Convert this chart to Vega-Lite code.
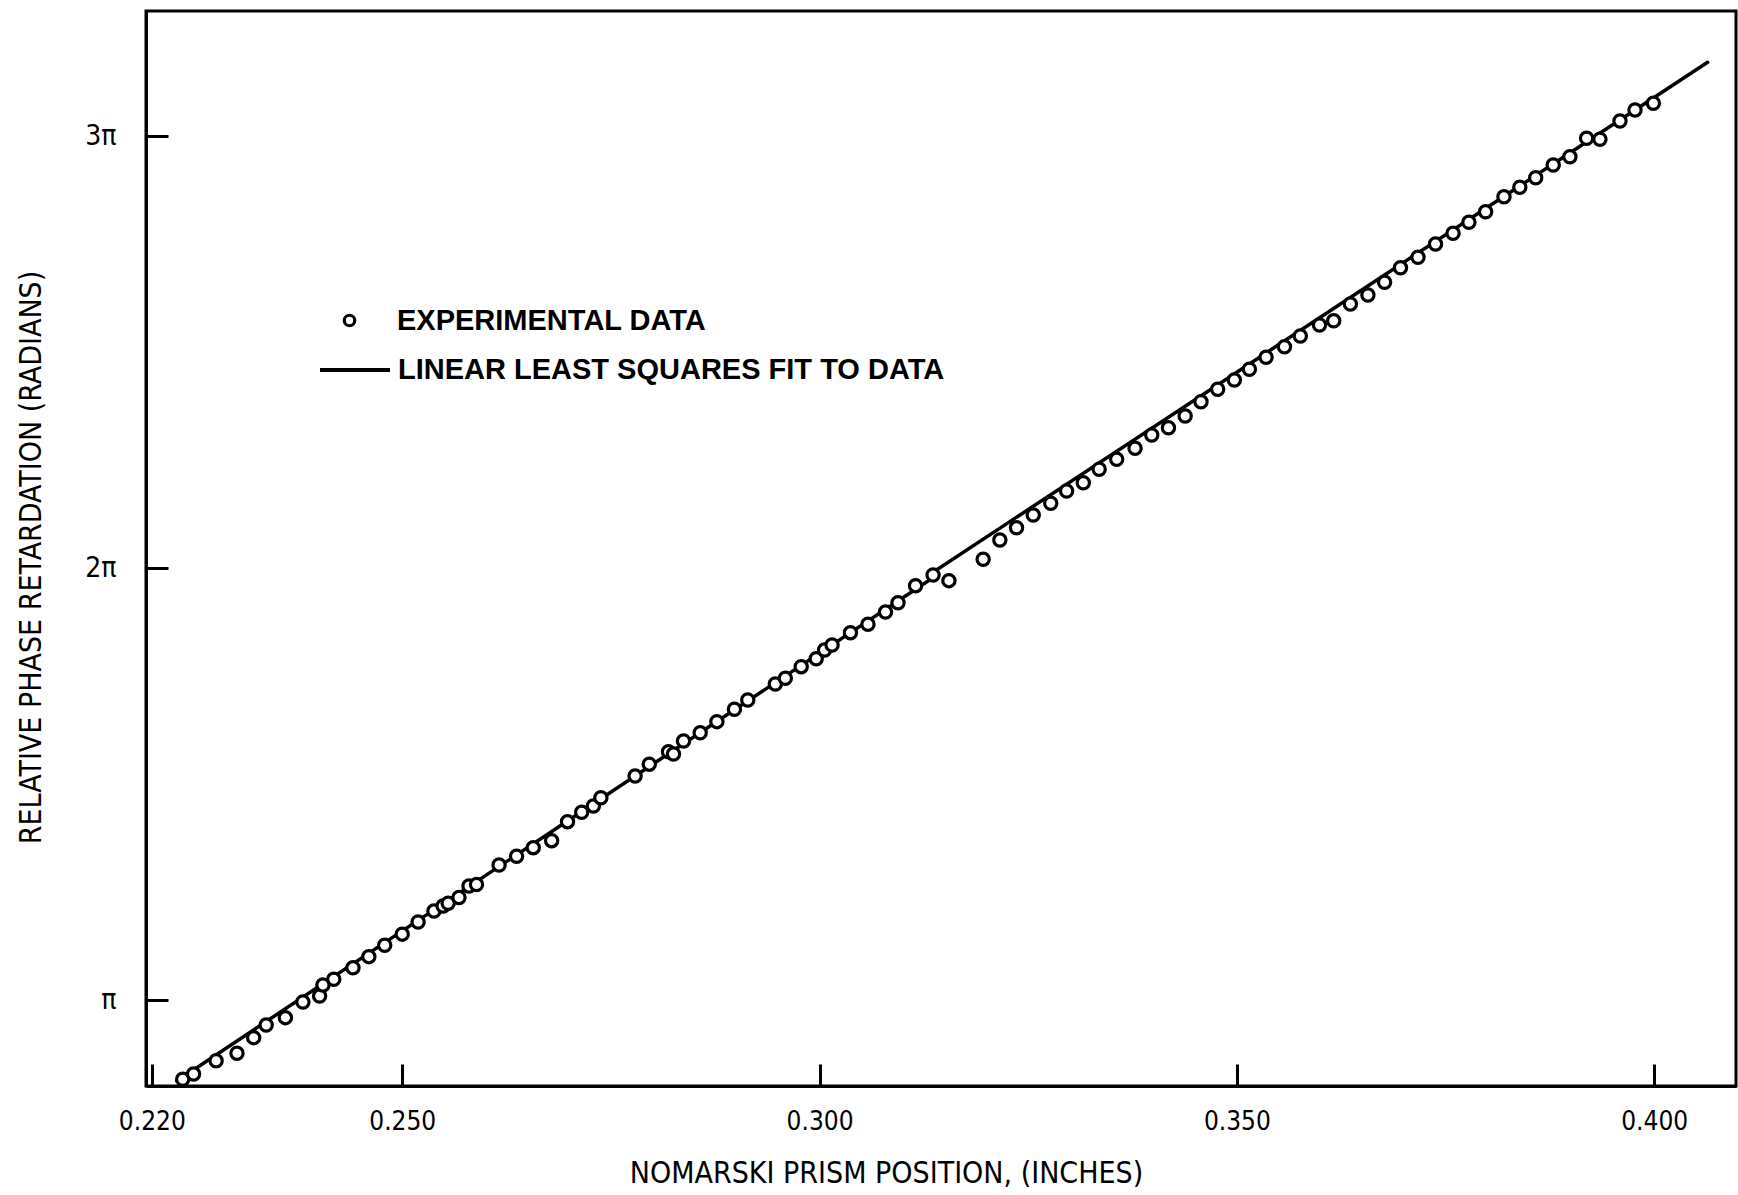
{
  "$schema": "https://vega.github.io/schema/vega-lite/v6.json",
  "width": 1590,
  "height": 1075,
  "autosize": {"type": "none"},
  "padding": {"left": 146, "top": 11, "right": 2, "bottom": 109},
  "background": "white",
  "config": {
    "view": {"stroke": "black", "strokeWidth": 3},
    "axis": {
      "grid": false,
      "domainColor": "black",
      "domainWidth": 3,
      "tickColor": "black",
      "tickWidth": 3,
      "tickSize": -22,
      "labelColor": "black",
      "labelFont": "Liberation Sans Narrow, DejaVu Sans Condensed, sans-serif",
      "labelFontSize": 26,
      "labelFlush": false,
      "labelOverlap": false,
      "titleColor": "black",
      "titleFont": "Liberation Sans Narrow, DejaVu Sans Condensed, sans-serif",
      "titleFontSize": 30,
      "titleFontWeight": "normal"
    }
  },
  "datasets": {
    "measured": [
      {"position_in": 0.2237, "retardation_pi": 0.8176},
      {"position_in": 0.2250, "retardation_pi": 0.8299},
      {"position_in": 0.2277, "retardation_pi": 0.8606},
      {"position_in": 0.2302, "retardation_pi": 0.8778},
      {"position_in": 0.2322, "retardation_pi": 0.9139},
      {"position_in": 0.2337, "retardation_pi": 0.9433},
      {"position_in": 0.2360, "retardation_pi": 0.9602},
      {"position_in": 0.2381, "retardation_pi": 0.9965},
      {"position_in": 0.2401, "retardation_pi": 1.0104},
      {"position_in": 0.2405, "retardation_pi": 1.0359},
      {"position_in": 0.2418, "retardation_pi": 1.0491},
      {"position_in": 0.2441, "retardation_pi": 1.0759},
      {"position_in": 0.2460, "retardation_pi": 1.1014},
      {"position_in": 0.2479, "retardation_pi": 1.1278},
      {"position_in": 0.2500, "retardation_pi": 1.1535},
      {"position_in": 0.2519, "retardation_pi": 1.1817},
      {"position_in": 0.2538, "retardation_pi": 1.2072},
      {"position_in": 0.2549, "retardation_pi": 1.2187},
      {"position_in": 0.2555, "retardation_pi": 1.2250},
      {"position_in": 0.2568, "retardation_pi": 1.2384},
      {"position_in": 0.2580, "retardation_pi": 1.2650},
      {"position_in": 0.2589, "retardation_pi": 1.2685},
      {"position_in": 0.2616, "retardation_pi": 1.3137},
      {"position_in": 0.2637, "retardation_pi": 1.3338},
      {"position_in": 0.2657, "retardation_pi": 1.3537},
      {"position_in": 0.2679, "retardation_pi": 1.3699},
      {"position_in": 0.2698, "retardation_pi": 1.4139},
      {"position_in": 0.2715, "retardation_pi": 1.4356},
      {"position_in": 0.2729, "retardation_pi": 1.4502},
      {"position_in": 0.2738, "retardation_pi": 1.4694},
      {"position_in": 0.2779, "retardation_pi": 1.5197},
      {"position_in": 0.2796, "retardation_pi": 1.5470},
      {"position_in": 0.2819, "retardation_pi": 1.5759},
      {"position_in": 0.2825, "retardation_pi": 1.5706},
      {"position_in": 0.2837, "retardation_pi": 1.6007},
      {"position_in": 0.2857, "retardation_pi": 1.6199},
      {"position_in": 0.2877, "retardation_pi": 1.6454},
      {"position_in": 0.2898, "retardation_pi": 1.6741},
      {"position_in": 0.2914, "retardation_pi": 1.6956},
      {"position_in": 0.2947, "retardation_pi": 1.7326},
      {"position_in": 0.2959, "retardation_pi": 1.7458},
      {"position_in": 0.2978, "retardation_pi": 1.7727},
      {"position_in": 0.2996, "retardation_pi": 1.7912},
      {"position_in": 0.3006, "retardation_pi": 1.8113},
      {"position_in": 0.3015, "retardation_pi": 1.8229},
      {"position_in": 0.3037, "retardation_pi": 1.8514},
      {"position_in": 0.3058, "retardation_pi": 1.8708},
      {"position_in": 0.3079, "retardation_pi": 1.8993},
      {"position_in": 0.3094, "retardation_pi": 1.9208},
      {"position_in": 0.3115, "retardation_pi": 1.9602},
      {"position_in": 0.3136, "retardation_pi": 1.9850},
      {"position_in": 0.3155, "retardation_pi": 1.9718},
      {"position_in": 0.3196, "retardation_pi": 2.0213},
      {"position_in": 0.3216, "retardation_pi": 2.0660},
      {"position_in": 0.3236, "retardation_pi": 2.0944},
      {"position_in": 0.3256, "retardation_pi": 2.1238},
      {"position_in": 0.3277, "retardation_pi": 2.1509},
      {"position_in": 0.3296, "retardation_pi": 2.1794},
      {"position_in": 0.3316, "retardation_pi": 2.1986},
      {"position_in": 0.3335, "retardation_pi": 2.2296},
      {"position_in": 0.3356, "retardation_pi": 2.2528},
      {"position_in": 0.3378, "retardation_pi": 2.2782},
      {"position_in": 0.3398, "retardation_pi": 2.3090},
      {"position_in": 0.3418, "retardation_pi": 2.3259},
      {"position_in": 0.3438, "retardation_pi": 2.3530},
      {"position_in": 0.3457, "retardation_pi": 2.3861},
      {"position_in": 0.3477, "retardation_pi": 2.4148},
      {"position_in": 0.3497, "retardation_pi": 2.4363},
      {"position_in": 0.3515, "retardation_pi": 2.4611},
      {"position_in": 0.3535, "retardation_pi": 2.4889},
      {"position_in": 0.3557, "retardation_pi": 2.5134},
      {"position_in": 0.3576, "retardation_pi": 2.5382},
      {"position_in": 0.3599, "retardation_pi": 2.5637},
      {"position_in": 0.3616, "retardation_pi": 2.5736},
      {"position_in": 0.3636, "retardation_pi": 2.6123},
      {"position_in": 0.3657, "retardation_pi": 2.6331},
      {"position_in": 0.3677, "retardation_pi": 2.6627},
      {"position_in": 0.3696, "retardation_pi": 2.6961},
      {"position_in": 0.3717, "retardation_pi": 2.7204},
      {"position_in": 0.3738, "retardation_pi": 2.7512},
      {"position_in": 0.3759, "retardation_pi": 2.7759},
      {"position_in": 0.3778, "retardation_pi": 2.8014},
      {"position_in": 0.3798, "retardation_pi": 2.8259},
      {"position_in": 0.3820, "retardation_pi": 2.8606},
      {"position_in": 0.3839, "retardation_pi": 2.8824},
      {"position_in": 0.3858, "retardation_pi": 2.9046},
      {"position_in": 0.3879, "retardation_pi": 2.9340},
      {"position_in": 0.3899, "retardation_pi": 2.9532},
      {"position_in": 0.3919, "retardation_pi": 2.9958},
      {"position_in": 0.3935, "retardation_pi": 2.9935},
      {"position_in": 0.3959, "retardation_pi": 3.0359},
      {"position_in": 0.3977, "retardation_pi": 3.0613},
      {"position_in": 0.3999, "retardation_pi": 3.0769}
    ],
    "fit": [
      {"position_in": 0.2230, "retardation_pi": 0.8137},
      {"position_in": 0.3139, "retardation_pi": 1.9826},
      {"position_in": 0.3140, "retardation_pi": 1.9965},
      {"position_in": 0.4064, "retardation_pi": 3.1718}
    ]
  },
  "layer": [
    {
      "data": {"name": "fit"},
      "mark": {"type": "line", "strokeWidth": 3.5, "strokeCap": "round"},
      "encoding": {
        "x": {
          "field": "position_in", "type": "quantitative",
          "scale": {"domain": [0.2193, 0.4098], "nice": false, "zero": false},
          "axis": {
            "values": [0.22, 0.25, 0.3, 0.35, 0.4],
            "format": ".3f",
            "title": "NOMARSKI PRISM POSITION, (INCHES)",
            "labelPadding": 44,
            "titleX": 740,
            "titleY": 87,
            "titleBaseline": "middle",
            "titleAlign": "center"
          }
        },
        "y": {
          "field": "retardation_pi", "type": "quantitative",
          "scale": {"domain": [0.802, 3.2905], "nice": false, "zero": false},
          "axis": {
            "values": [1, 2, 3],
            "labelExpr": "datum.value == 1 ? 'π' : datum.value + 'π'",
            "title": "RELATIVE PHASE RETARDATION (RADIANS)",
            "labelPadding": 52,
            "labelFontSize": 28,
            "titleX": -115,
            "titleY": 546,
            "titleAngle": 270,
            "titleBaseline": "middle",
            "titleAlign": "center"
          }
        },
        "color": {
          "datum": "LINEAR LEAST SQUARES FIT TO DATA",
          "scale": {"range": ["black"]},
          "legend": {
            "orient": "none",
            "legendX": 172,
            "legendY": 322,
            "title": null,
            "padding": 0,
            "symbolType": "stroke",
            "symbolSize": 4900,
            "symbolStrokeWidth": 4,
            "symbolStrokeColor": "black",
            "labelFont": "Liberation Sans, Arial, sans-serif",
            "labelFontWeight": "bold",
            "labelFontSize": 29,
            "labelColor": "black",
            "labelOffset": 6,
            "labelLimit": 1000
          }
        }
      }
    },
    {
      "data": {"name": "measured"},
      "mark": {"type": "point", "filled": true, "fill": "white", "strokeWidth": 3.2, "size": 150, "opacity": 1},
      "encoding": {
        "x": {"field": "position_in", "type": "quantitative"},
        "y": {"field": "retardation_pi", "type": "quantitative"},
        "stroke": {
          "datum": "EXPERIMENTAL DATA",
          "scale": {"range": ["black"]},
          "legend": {
            "orient": "none",
            "legendX": 189,
            "legendY": 295,
            "title": null,
            "padding": 0,
            "symbolType": "circle",
            "symbolSize": 110,
            "symbolStrokeWidth": 3.2,
            "symbolFillColor": "white",
            "labelFont": "Liberation Sans, Arial, sans-serif",
            "labelFontWeight": "bold",
            "labelFontSize": 29,
            "labelColor": "black",
            "labelOffset": 33,
            "labelLimit": 1000
          }
        }
      }
    }
  ]
}
